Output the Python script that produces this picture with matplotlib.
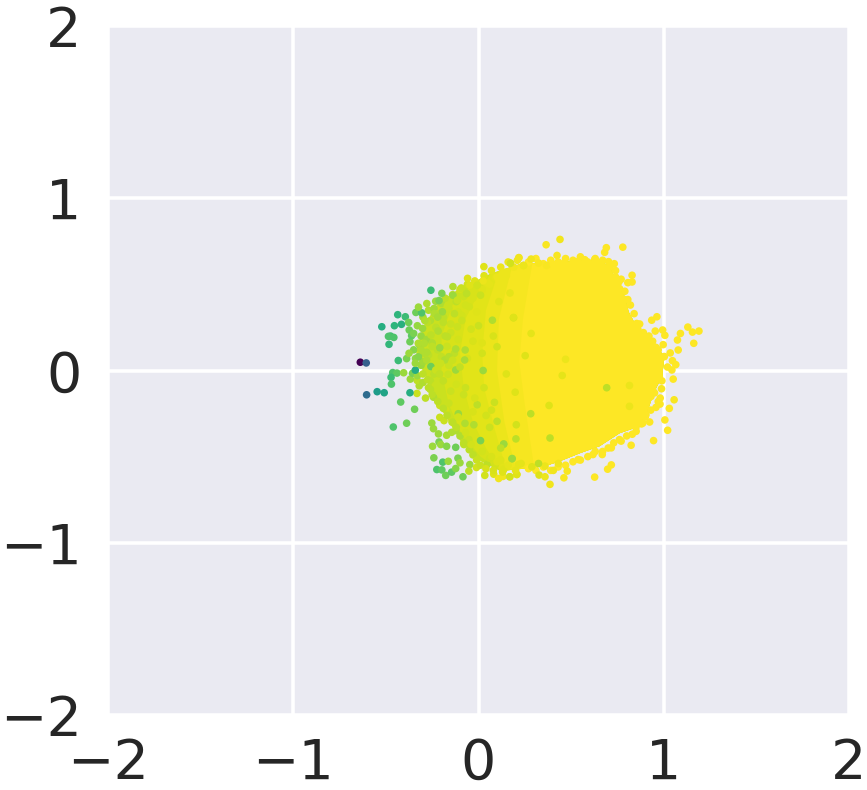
import matplotlib
matplotlib.use('Agg')
import matplotlib.pyplot as plt
import numpy as np

# dense core of the cloud, outline
core_right_x = [.225, .44, .654, .708, .761, .79, .81, .85, .93, .985, 1.0, .992, .949, .912, .869, .761, .654, .547, .44, .359, .225]
core_right_y = [.618, .63, .642, .601, .486, .428, .341, .26, .19, .11, .05, -.035, -.121, -.237, -.324, -.364, -.439, -.48, -.526, -.555, -.572]

core_left_x = [
    [.118, .011, -.097, -.177, -.23, -.3, -.338, -.3, -.22, -.097, .064],
    [.118, .011, -.09, -.16, -.2, -.2, -.14, -.04, .064],
    [.118, .04, -.03, -.08, -.1, -.07, 0, .064],
    [.15, .09, .03, .02, .04, .11],
    [.2, .14, .1, .11, .18],
    [.3, .25, .22, .24, .29],
]
core_left_y = [
    [-.584, -.526, -.41, -.266, -.15, -.006, .11, .25, .39, .48, .561],
    [-.584, -.5, -.37, -.2, 0, .2, .38, .49, .561],
    [-.584, -.45, -.3, -.1, .1, .3, .45, .561],
    [-.575, -.35, -.1, .1, .35, .58],
    [-.57, -.3, 0, .3, .6],
    [-.56, -.2, .05, .3, .62],
]
core_values = [.92, .94, .955, .97, .985, 1.0]

# individual points on the left fringe
left_x = [-.638, -.606, -.604, -.547, -.509, -.522, -.436, -.395, -.454, -.416, -.257, -.475, -.486, -.457, -.483,
          -.433, -.388, -.341, -.463, -.44, -.404, -.472, -.47, -.37, -.42, -.345, -.46, -.388,
          -.324, -.341, -.375, -.325, -.37, -.361, -.374, -.377, -.35, -.338, -.307, -.324, -.302, -.279, -.231, -.213,
          -.198, -.138, -.138, -.093, -.059, .029, .1, .172, .218, .243, .025, -.047, -.007, -.064, -.114, -.168,
          -.239, -.195, -.275, -.218, -.257, -.293, -.209, -.279, -.257, -.275, -.231, -.182, -.123, -.072, -.075,
          -.123, .025, -.168, -.114, -.164, -.204, -.231, .075, .189, .1, .011, -.28, -.25, -.31, -.29, -.22, -.19,
          -.16, -.13, -.1, -.3, -.26, -.21, -.15, -.07, -.03, -.18, -.14, -.09, -.05, -.02]
left_y = [.048, .044, -.141, -.123, -.129, .254, .324, .312, .26, .268, .466, .2, .198, .192, .152,
          .058, .069, .002, -.012, -.015, -.013, -.04, -.079, -.129, -.183, -.225, -.328, -.306,
          .08, .042, .1, .158, .167, .202, .235, .279, .215, .337, .335, .368, .244, .389, .402, .406,
          .448, .487, .437, .479, .535, .603, .543, .622, .655, .61, .52, .495, .495, .447, .408, .375,
          .331, .341, .279, .229, .206, .158, .132, .106, .023, -.054, -.083, .061, .125, .119, .061,
          .003, 0, .196, .254, -.022, .042, .003, .292, .306, .138, .437, .06, .14, .12, .29, .31, .28,
          .08, .33, .02, -.02, -.11, -.02, -.12, -.1, .17, .2, .06, .29, .37, -.16]
left_v = [0, .3, .35, .55, .58, .62, .65, .68, .65, .63, .68, .7, .72, .72, .66,
          .68, .8, .62, .72, .75, .85, .68, .72, .62, .75, .78, .72, .78,
          .82, .85, .85, .88, .78, .75, .78, .78, .8, .78, .72, .85, .85, .88, .85, .8,
          .8, .88, .85, .92, .95, .95, .97, .93, .98, .97, .97, .95, .93, .9, .92, .92,
          .88, .85, .9, .88, .9, .88, .85, .88, .78, .9, .92, .88, .88, .88, .87,
          .85, .85, .9, .92, .92, .92, .92, .88, .93, .93, .92, .88, .9, .88, .88, .87, .9,
          .89, .9, .91, .9, .9, .91, .92, .92, .94, .9, .92, .92, .93, .94]

upper_x = [-.33, -.30, -.27, -.31, -.26, -.24, -.28, -.22, -.2, -.23, -.18, -.16, -.19, -.14, -.12, -.15, -.1, -.08, -.11, -.06,
           -.04, -.07, -.02, .0, -.03, .03, .05, .02, .07, .09, .06, .12, .14, .11, .16, .19, .15, .21]
upper_y = [.26, .31, .35, .2, .29, .36, .18, .33, .39, .25, .42, .36, .31, .44, .4, .27, .47, .43, .34, .5,
           .46, .38, .52, .47, .42, .55, .51, .47, .58, .54, .5, .6, .57, .52, .63, .6, .55, .64]
upper_v = [.84, .86, .88, .84, .88, .86, .86, .9, .88, .9, .9, .92, .9, .92, .9, .92, .93, .92, .93, .93,
           .94, .93, .95, .94, .94, .95, .96, .95, .96, .96, .96, .97, .97, .97, .97, .98, .97, .98]

lower_x = [-.33, -.3, -.27, -.31, -.25, -.22, -.26, -.19, -.17, -.21, -.14, -.12, -.16, -.1, -.08, -.11, -.05, -.03, -.07, -.01,
           .01, -.04, .04, .06, .02, .08, .1, .07, .13, .16, .12, .2, .23]
lower_y = [-.03, -.07, -.1, .03, -.14, -.18, -.06, -.22, -.26, -.12, -.3, -.33, -.19, -.38, -.42, -.27, -.46, -.49, -.36, -.52,
           -.55, -.43, -.57, -.51, -.47, -.58, -.53, -.5, -.59, -.55, -.52, -.58, -.54]
lower_v = [.85, .88, .9, .85, .9, .9, .9, .9, .9, .92, .9, .9, .92, .88, .9, .93, .9, .9, .93, .92,
           .92, .93, .94, .93, .93, .94, .95, .94, .95, .96, .95, .96, .96]

middle_x = [-.35, -.32, -.29, -.34, -.3, -.27, -.25, -.22, -.24, -.2, -.17, -.19, -.15, -.13, -.16, -.11, -.09, -.12, -.06, -.04, -.08, -.01, .02, -.03]
middle_y = [.12, .15, .1, .07, .05, .09, .16, .12, -.02, .08, .14, -.06, .22, .1, .03, .18, .32, -.08, .07, .24, -.14, .34, .16, -.24]
middle_v = [.82, .85, .88, .83, .86, .9, .88, .9, .9, .91, .92, .91, .92, .9, .92, .93, .93, .93, .94, .93, .92, .95, .95, .94]

# bottom fringe
bottom_x = [-.252, -.243, -.216, -.172, -.123, -.145, -.213, -.248, -.204, -.172, -.123, -.241, -.193, -.163, -.111,
            -.225, -.198, -.177, -.145, -.123, -.1, -.084, -.047, -.052, -.011, .034, .082, .109, .132, .17, .207,
            .046, .091, .136, .18, -.079, -.052, .011, .136, -.025, -.073, -.143, -.209, -.186, -.177, -.209, -.286,
            -.243, -.204, -.332, -.32, -.331, -.368, -.356, -.109, -.007, .086, .041, .1, .168, .207, .216, .288,
            .327, .359, .359, .386, .404, .431, .461, .479, .538, .618, .627, .668, .697, .717, .717, .761, .824]
bottom_y = [-.305, -.338, -.368, -.376, -.349, -.359, -.415, -.44, -.43, -.44, -.446, -.507, -.532, -.527, -.509,
            -.575, -.577, -.609, -.59, -.569, -.536, -.617, -.546, -.584, -.563, -.609, -.602, -.627, -.615, -.617, -.604,
            -.546, -.546, -.575, -.513, -.43, -.401, -.407, -.426, -.315, -.307, -.299, -.272, -.291, -.228, -.203, -.16,
            -.155, -.137, -.133, -.089, -.058, -.05, -.016, -.251, -.199, -.185, -.261, -.295, -.617, -.603, -.546, -.559,
            -.607, -.617, -.555, -.661, -.58, -.54, -.623, -.584, -.517, -.488, -.619, -.488, -.573, -.449, -.548, -.401, -.434]
bottom_v = [.85, .85, .85, .87, .88, .88, .8, .85, .85, .82, .78, .8, .72, .85, .8,
            .72, .75, .78, .75, .82, .85, .78, .85, .9, .93, .93, .95, .98, .98, .97, .97,
            .9, .93, .95, .88, .9, .92, .8, .88, .88, .88, .92, .92, .92, .93, .92, .9,
            .88, .92, .92, .88, .9, .85, .8, .85, .9, .92, .93, .9, .93, .95, .96, .95,
            .95, .97, .97, .98, .98, .98, .99, .99, 1, 1, 1, 1, 1, 1, 1, 1, 1]

# top and right fringe, all close to the top of the colour scale
right_x = [.365, .44, .424, .172, .218, .243, .284, .324, .368, .69, .681, .779, .702, .733, .627, .574, .538, .461, .404,
           .74, .758, .761, .829, .829, .806, .788, .806, .788, .803, .854, .935, .963, .954, .994, 1.006, .869, .91,
           .997, .958, .887, .86, 1.035, 1.074, 1.09, 1.13, 1.155, 1.19, 1.162, 1.078, 1.003, 1.047, 1.065, 1.044,
           1.051, .976, .928, .962, .988, .981, 1.056, 1.03, .958, .98, 1.006, 1.021, .945, .924, .904, .94, .931,
           .976, .904, .851, .887, .815]
right_y = [.73, .761, .668, .624, .655, .61, .647, .624, .61, .713, .686, .716, .632, .62, .643, .643, .634, .624, .616,
           .543, .514, .476, .553, .514, .51, .412, .412, .354, .308, .273, .292, .312, .229, .235, .204, .212, .167,
           .15, .134, .119, .138, .102, .177, .215, .252, .223, .229, .158, .119, .081, .057, .034, .003,
           -.05, .042, .094, .061, -.106, -.16, -.17, -.22, -.214, -.195, -.287, -.347, -.407, -.299, -.257, -.112, -.151,
           -.035, -.016, -.353, -.305, -.208]
right_v = [.99, .98, .99, .93, .98, .97, .98, .99, .99, 1, 1, 1, 1, 1, 1, 1, 1, 1, 1,
           1, 1, 1, 1, 1, 1, 1, 1, 1, 1, 1, 1, 1, 1, 1, 1, 1, 1,
           1, 1, 1, 1, 1, 1, 1, 1, 1, 1, 1, 1, 1, 1, 1, 1,
           1, 1, 1, 1, .99, 1, .99, 1, 1, 1, 1, 1, 1, 1, 1, 1, 1,
           1, 1, 1, 1, 1]

edge_x = [.27, .31, .35, .39, .43, .47, .51, .55, .59, .63, .67, .71, .74, .77, .79,
          .76, .82, .84, .81, .87, .89, .86, .92, .94, .9, .97, 1.0, .96, 1.02, .99,
          .95, .97, .93, .9, .88, .85, .83, .8, .77, .73, .7, .67, .63, .59, .55, .51, .47, .43, .39, .35, .31, .27]
edge_y = [.63, .65, .62, .64, .63, .65, .64, .66, .63, .65, .64, .6, .58, .53, .46,
          .44, .38, .33, .3, .27, .22, .24, .2, .17, .15, .12, .08, .06, .02, -.06,
          -.13, -.18, -.23, -.27, -.31, -.33, -.37, -.38, -.41, -.42, -.45, -.47, -.47, -.5, -.52, -.53, -.55, -.56, -.58, -.56, -.58, -.57]
edge_v = [1.0] * 52

# greener points that stand out inside the core
inner_x = [.692, .815, .815, .282, .284, .189, .252, .47, .452, .381, .202, .136, .182, .386, .324, .204, .198,
           .08, .0, .11, .03, .15, .06, .12, .17, .02, .07]
inner_y = [-.1, -.087, -.208, -.251, .215, .308, .086, .065, -.029, -.203, -.397, -.428, -.511, -.392, -.54, -.315, -.126,
           .2, .26, .4, -.1, -.02, -.33, -.45, .45, .1, -.23]
inner_v = [.9, .97, .97, .9, .96, .95, .95, .97, .96, .95, .9, .85, .85, .9, .9, .93, .95,
           .94, .92, .95, .93, .95, .92, .9, .96, .93, .93]

ticks = [-2, -1, 0, 1, 2]

plt.rcParams['font.family'] = 'DejaVu Sans'
fig = plt.figure(figsize=(8.67, 7.9), dpi=100)
ax = fig.add_axes([108 / 867, 1 - 715 / 790, 741 / 867, 689 / 790])
ax.set_facecolor('#EAEAF2')
ax.grid(True, color='white', linewidth=2.6)
ax.set_axisbelow(True)
for spine in ax.spines.values():
    spine.set_visible(False)

cmap = plt.get_cmap('viridis')
for xs, ys, v in zip(core_left_x, core_left_y, core_values):
    ax.fill(list(core_right_x) + xs, list(core_right_y) + ys, color=cmap(v), linewidth=0, zorder=2)

pts_x = np.r_[edge_x, right_x, bottom_x, lower_x, upper_x, middle_x, left_x, inner_x]
pts_y = np.r_[edge_y, right_y, bottom_y, lower_y, upper_y, middle_y, left_y, inner_y]
pts_v = np.r_[edge_v, right_v, bottom_v, lower_v, upper_v, middle_v, left_v, inner_v]
ax.scatter(pts_x, pts_y, c=pts_v, cmap='viridis', vmin=0, vmax=1, s=30, linewidths=0, zorder=3)

ax.set_xlim(-2, 2)
ax.set_ylim(-2, 2)
ax.set_xticks(ticks)
ax.set_yticks(ticks)
ax.tick_params(axis='x', length=0, labelsize=40, labelcolor='#262626', pad=16)
ax.tick_params(axis='y', length=0, labelsize=40, labelcolor='#262626', pad=19)

fig.savefig('out.png', dpi=100)
